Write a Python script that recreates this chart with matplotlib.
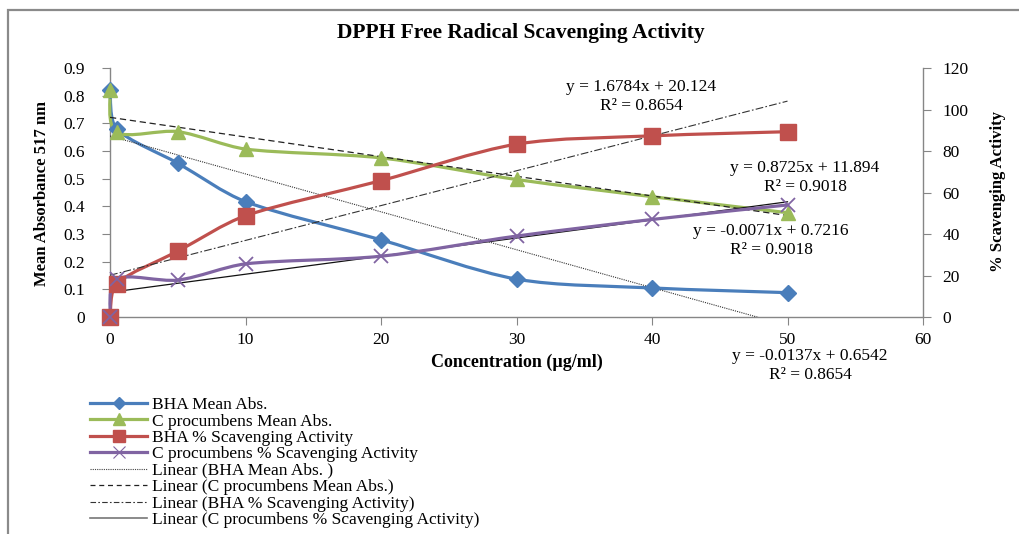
import numpy as np
import matplotlib
matplotlib.use("Agg")
import matplotlib.pyplot as plt
from matplotlib.path import Path
from matplotlib.patches import PathPatch, Rectangle
from matplotlib.lines import Line2D
from matplotlib.ticker import FuncFormatter

plt.rcParams['font.family'] = ['Liberation Serif', 'DejaVu Serif']

# data
conc = [0, 0.5, 5, 10, 20, 30, 40, 50]
bha_abs = [0.82, 0.68, 0.556, 0.417, 0.279, 0.137, 0.105, 0.088]
cp_abs = [0.82, 0.668, 0.67, 0.607, 0.575, 0.497, 0.435, 0.377]
bha_scav = [0, 16.1, 31.7, 48.8, 65.7, 83.3, 87.3, 89.3]
cp_scav = [0, 18.3, 17.8, 25.6, 29.3, 39.0, 47.0, 54.0]

# trendline equations printed on the chart: (slope, intercept, R2)
fit_bha_abs = (-0.0137, 0.6542, 0.8654)
fit_cp_abs = (-0.0071, 0.7216, 0.9018)
fit_bha_scav = (1.6784, 20.124, 0.8654)
fit_cp_scav = (0.8725, 11.894, 0.9018)

labels = ["BHA Mean Abs.", "C procumbens Mean Abs.", "BHA % Scavenging Activity",
          "C procumbens % Scavenging Activity", "Linear (BHA Mean Abs. )",
          "Linear (C procumbens Mean Abs.)", "Linear (BHA % Scavenging Activity)",
          "Linear (C procumbens % Scavenging Activity)"]

BLUE, GREEN, RED, PURPLE = '#4A7EBB', '#9BBB59', '#C0504D', '#8064A2'
GREY = '#868686'

W, H = 1020, 534
fig = plt.figure(figsize=(W / 100, H / 100), dpi=100)
fig.patch.set_facecolor('white')
fig.add_artist(Rectangle((8.5 / W, -0.1), 1.2, 1.1 - 9.5 / H, fill=False,
                         ec='#8a8a8a', lw=1.6, transform=fig.transFigure))

axw, axh = 813, 249
ax = fig.add_axes([110 / W, 1 - 317 / H, axw / W, axh / H])
ax2 = ax.twinx()
ax.set_xlim(0, 60)
ax.set_ylim(0, 0.9)
ax2.set_ylim(0, 120)


def smooth(a, xs, ys, ytop, color):
    # excel-like smoothed line as bezier segments
    sx, sy = axw / 60.0, axh / ytop
    P = np.column_stack([np.asarray(xs, float) * sx, np.asarray(ys, float) * sy])
    n = len(P)
    verts = [P[0]]
    codes = [Path.MOVETO]

    def direction(v):
        L = np.hypot(*v)
        return (v / L, L) if L > 0 else (v * 0, 0)
    for i in range(n - 1):
        p0, p1 = P[max(i - 1, 0)], P[i]
        p2, p3 = P[i + 1], P[min(i + 2, n - 1)]
        seg = np.hypot(*(p2 - p1))
        d1, l1 = direction(p2 - p0)
        d2, l2 = direction(p3 - p1)
        c1 = p1 + d1 * min(l1 / 6, seg * 0.3)
        c2 = p2 - d2 * min(l2 / 6, seg * 0.3)
        verts += [c1, c2, p2]
        codes += [Path.CURVE4] * 3
    verts = np.array(verts) / [sx, sy]
    a.add_patch(PathPatch(Path(verts, codes), fill=False, ec=color, lw=2.3,
                          capstyle='round', joinstyle='round', zorder=3,
                          clip_on=False))


xx = np.array([0, 50])
ax.plot(xx, fit_bha_abs[0] * xx + fit_bha_abs[1], color='#333333', lw=0.8,
        ls=(0, (1, 1)), zorder=4)
ax.plot(xx, fit_cp_abs[0] * xx + fit_cp_abs[1], color='#222222', lw=0.9,
        ls=(0, (5, 3)), zorder=4)
ax2.plot(xx, fit_bha_scav[0] * xx + fit_bha_scav[1], color='#333333', lw=0.8,
         ls=(0, (7, 2, 1.5, 2)), zorder=4)
ax2.plot(xx, fit_cp_scav[0] * xx + fit_cp_scav[1], color='#111111', lw=0.9,
         zorder=2)

smooth(ax, conc, bha_abs, 0.9, BLUE)
ax.plot(conc, bha_abs, ls='none', marker='D', ms=8.5, color=BLUE, zorder=5,
        clip_on=False)
smooth(ax, conc, cp_abs, 0.9, GREEN)
ax.plot(conc, cp_abs, ls='none', marker='^', ms=10.5, color=GREEN, zorder=5,
        clip_on=False)
smooth(ax2, conc, bha_scav, 120, RED)
ax2.plot(conc, bha_scav, ls='none', marker='s', ms=11, color=RED, zorder=5,
         clip_on=False)
smooth(ax2, conc, cp_scav, 120, PURPLE)
ax2.plot(conc, cp_scav, ls='none', marker='x', ms=10, mew=1.3, color=PURPLE,
         zorder=6, clip_on=False)

for a in (ax, ax2):
    for s in a.spines.values():
        s.set_color(GREY)
        s.set_linewidth(1.0)
    a.spines['top'].set_visible(False)
ax.spines['right'].set_visible(False)
ax2.spines['left'].set_visible(False)
ax2.spines['bottom'].set_visible(False)
ax.patch.set_visible(False)

ax.set_xticks(range(0, 61, 10))
ax.set_yticks(np.arange(0, 0.91, 0.1))
ax.yaxis.set_major_formatter(FuncFormatter(lambda v, p: '%g' % round(v, 1)))
ax2.set_yticks(range(0, 121, 20))
ax.tick_params(axis='y', length=6, color=GREY, labelsize=12.5, pad=12)
ax.tick_params(axis='x', length=6, color=GREY, labelsize=12.5, pad=5)
ax2.tick_params(axis='y', length=6, color=GREY, labelsize=12.5, pad=8)

ax.set_xlabel('Concentration (µg/ml)', fontsize=13, fontweight='bold', labelpad=4)
fig.text(42 / W, 1 - 193 / H, 'Mean Absorbance 517 nm', rotation=90, fontsize=12,
         fontweight='bold', ha='center', va='center')
fig.text(998 / W, 1 - 191 / H, '% Scavenging Activity', rotation=90, fontsize=12,
         fontweight='bold', ha='center', va='center')
fig.text(521 / W, 1 - 33 / H, 'DPPH Free Radical Scavenging Activity', fontsize=15.5,
         fontweight='bold', ha='center', va='center')

eqs = [(fit_bha_scav, 641, 87), (fit_cp_scav, 805, 168),
       (fit_cp_abs, 771, 231), (fit_bha_abs, 810, 356)]
for (m, b, r2), px, py in eqs:
    fig.text(px / W, 1 - py / H, 'y = %gx + %g' % (m, b), fontsize=12.5,
             ha='center', va='center')
    fig.text(px / W, 1 - (py + 19) / H, 'R² = %g' % r2, fontsize=12.5,
             ha='center', va='center')

handles = [
    Line2D([], [], color=BLUE, lw=2.3, marker='D', ms=6),
    Line2D([], [], color=GREEN, lw=2.3, marker='^', ms=8),
    Line2D([], [], color=RED, lw=2.3, marker='s', ms=9),
    Line2D([], [], color=PURPLE, lw=2.3, marker='x', ms=8, mew=0.8),
    Line2D([], [], color='#444444', lw=0.8, ls=(0, (1, 1))),
    Line2D([], [], color='#222222', lw=0.9, ls=(0, (4, 3))),
    Line2D([], [], color='#333333', lw=0.8, ls=(0, (5, 2, 1.5, 2))),
    Line2D([], [], color='#777777', lw=1.2),
]
fig.legend(handles, labels, loc='upper left', bbox_to_anchor=(90 / W, 1 - 397 / H),
           frameon=False, fontsize=12.5, handlelength=3.3, handletextpad=0.3,
           labelspacing=0.015, borderpad=0, borderaxespad=0)

fig.savefig('out.png', dpi=100)
